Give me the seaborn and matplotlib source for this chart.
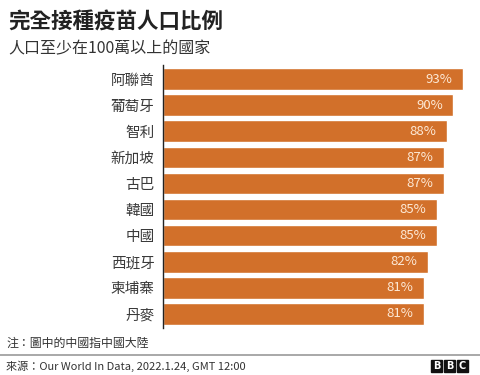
import matplotlib
matplotlib.use("Agg")
import matplotlib.pyplot as plt
import seaborn as sns
import pandas as pd

countries = ["阿聯酋", "葡萄牙", "智利", "新加坡", "古巴", "韓國", "中國", "西班牙", "柬埔寨", "丹麥"]
shares = [93, 90, 88, 87, 87, 85, 85, 82, 81, 81]

title = "完全接種疫苗人口比例"
subtitle = "人口至少在100萬以上的國家"
note = "注：圖中的中國指中國大陸"
source = "來源：Our World In Data, 2022.1.24, GMT 12:00"

BAR = "#d2702a"
LABEL = "#fde9d6"

sns.set_theme(style="white")
plt.rcParams['font.family'] = ['Noto Sans CJK TC', 'DejaVu Sans']

df = pd.DataFrame({"country": countries, "share": shares})

fig = plt.figure(figsize=(4.8, 3.75), dpi=100)
ax = fig.add_axes([163 / 480, 1 - 328 / 375, 307 / 480, 263 / 375])

sns.barplot(data=df, x="share", y="country", color=BAR, width=0.84,
            saturation=1, ax=ax)

ax.set_xlim(0, 93 / 300 * 307)
ax.set_ylim(len(countries) - 0.45, -0.55)
ax.set_xlabel("")
ax.set_ylabel("")
ax.set_xticks([])
ax.tick_params(axis="y", length=0, pad=6, labelsize=10.5, labelcolor="#3a3a3a")
for s in ["top", "right", "bottom"]:
    ax.spines[s].set_visible(False)
ax.spines["left"].set_color("#222222")
ax.spines["left"].set_linewidth(1)

for i, v in enumerate(shares):
    ax.text(v - 3.3, i, f"{v}%", ha="right", va="center", color=LABEL, fontsize=9.5)

fig.text(8 / 480, 1 - 22 / 375, title, fontsize=15.5, fontweight="bold",
         color="#222222", va="center")
fig.text(8 / 480, 1 - 49 / 375, subtitle, fontsize=11.5, color="#333333", va="center")
fig.text(6 / 480, 1 - 343 / 375, note, fontsize=8.6, color="#333333", va="center")
fig.add_artist(plt.Line2D([0, 1], [1 - 355 / 375] * 2, color="#999999", lw=1.2,
                          transform=fig.transFigure))
fig.text(6 / 480, 1 - 366 / 375, source, fontsize=8, color="#333333", va="center")

# BBC logo blocks
for k, ch in enumerate("BBC"):
    x0 = 431 / 480 + k * 13 / 480
    fig.patches.append(plt.Rectangle((x0, 1 - 372 / 375), 11 / 480, 12 / 375,
                                     color="#111111", transform=fig.transFigure))
    fig.text(x0 + 5.5 / 480, 1 - 366 / 375, ch, fontsize=7, fontweight="bold",
             color="white", ha="center", va="center", family="DejaVu Sans")

fig.savefig("out.png", dpi=100)
